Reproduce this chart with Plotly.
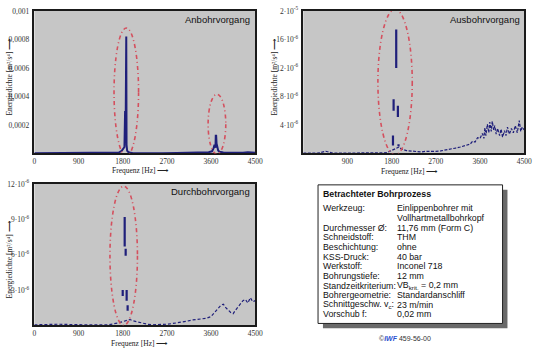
import plotly.graph_objects as go

W, H = 540, 349

# ---------------- data ----------------
freq_ticks = [0, 900, 1800, 2700, 3600, 4500]
freq_ticktext = ["0", "900", "1800", "2700", "3600", "4500"]

# Anbohrvorgang spectrum (Hz, m²/s⁴)
an_freq = [0, 200, 470, 490, 700, 1000, 1300, 1600, 1720, 1780, 1810, 1835, 1848, 1852,
           1858, 1862, 1866, 1872, 1878, 1884, 1890, 1905, 1925, 1950, 2000, 2100, 2300,
           2600, 2900, 3150, 3300, 3450, 3550, 3620, 3650, 3670, 3690, 3696, 3704, 3712,
           3725, 3745, 3770, 3800, 3850, 3950, 4050, 4150, 4250, 4350, 4450, 4500]
an_val = [0.000001, 0.000001, 0.000004, 0.000001, 0.000001, 0.000001, 0.000001, 0.000002,
          0.000006, 0.000018, 0.000030, 0.000045, 0.00029, 0.00029, 0.00009, 0.00082,
          0.00082, 0.00082, 0.00006, 0.000035, 0.000020, 0.000012, 0.000008, 0.000004,
          0.000003, 0.000002, 0.000002, 0.000002, 0.000003, 0.000004, 0.000006, 0.000005,
          0.000009, 0.000015, 0.000035, 0.000060, 0.000040, 0.000124, 0.000124, 0.000070,
          0.000050, 0.000020, 0.000012, 0.000008, 0.000006, 0.000005, 0.000004, 0.000007,
          0.000005, 0.000008, 0.000006, 0.000005]

# Ausbohrvorgang spectrum (Hz, m²/s⁴)
aus_freq = [0, 300, 460, 600, 900, 1200, 1500, 1700, 1950, 2000, 2100, 2200, 2300, 2400,
            2500, 2600, 2700, 2800, 2900, 3000, 3100, 3200, 3300, 3400, 3450, 3500, 3550,
            3600, 3650, 3680, 3700, 3720, 3750, 3780, 3800, 3830, 3850, 3880, 3900, 3930,
            3960, 4000, 4030, 4060, 4100, 4130, 4160, 4200, 4240, 4280, 4320, 4360, 4400,
            4430, 4460, 4500]
aus_val = [0.05e-6, 0.05e-6, 0.3e-6, 0.05e-6, 0.05e-6, 0.05e-6, 0.05e-6, 0.1e-6, 0.9e-6,
           0.6e-6, 0.4e-6, 0.3e-6, 0.25e-6, 0.2e-6, 0.3e-6, 0.25e-6, 0.3e-6, 0.35e-6,
           0.45e-6, 0.6e-6, 0.75e-6, 0.9e-6, 1.1e-6, 1.3e-6, 1.7e-6, 1.6e-6, 2.2e-6,
           2.1e-6, 2.8e-6, 2.1e-6, 3.6e-6, 2.5e-6, 4.1e-6, 2.9e-6, 4.4e-6, 3.1e-6,
           4.5e-6, 3.3e-6, 3.9e-6, 2.7e-6, 3.5e-6, 2.5e-6, 3.4e-6, 2.3e-6, 3.2e-6,
           2.5e-6, 3.7e-6, 2.7e-6, 3.5e-6, 2.9e-6, 3.9e-6, 2.9e-6, 4.6e-6, 3.1e-6,
           3.7e-6, 3.3e-6]

# Ausbohrvorgang peak segments: frequency, lower and upper value (m²/s⁴)
aus_seg_freq = [1893, 1840, 1927, 1827, 1940]
aus_seg_lo = [12.0e-6, 6.0e-6, 5.1e-6, 1.1e-6, 1.0e-6]
aus_seg_hi = [17.4e-6, 7.6e-6, 6.7e-6, 2.5e-6, 1.3e-6]

# Durchbohrvorgang spectrum (Hz, m²/s⁴)
dur_freq = [0, 500, 1000, 1300, 1500, 1700, 1950, 2000, 2100, 2200, 2300, 2400, 2500,
            2600, 2700, 2800, 2900, 3000, 3100, 3200, 3300, 3400, 3500, 3600, 3700,
            3800, 3850, 3900, 4000, 4050, 4100, 4200, 4250, 4300, 4350, 4400, 4450, 4500]
dur_val = [0.05e-6, 0.1e-6, 0.05e-6, 0.05e-6, 0.05e-6, 0.2e-6, 0.5e-6, 0.4e-6, 0.3e-6,
           0.15e-6, 0.1e-6, 0.05e-6, 0.05e-6, 0.05e-6, 0.1e-6, 0.15e-6, 0.2e-6, 0.25e-6,
           0.35e-6, 0.45e-6, 0.5e-6, 0.5e-6, 0.6e-6, 0.75e-6, 1.2e-6, 1.7e-6, 1.8e-6,
           1.5e-6, 1.1e-6, 1.0e-6, 1.3e-6, 1.8e-6, 2.1e-6, 2.2e-6, 1.9e-6, 2.35e-6,
           2.0e-6, 2.1e-6]

# Durchbohrvorgang peak segments
dur_seg_freq = [1840, 1860, 1800, 1880, 1900]
dur_seg_lo = [6.7e-6, 5.9e-6, 2.5e-6, 2.1e-6, 1.25e-6]
dur_seg_hi = [9.2e-6, 6.5e-6, 3.0e-6, 3.0e-6, 1.7e-6]

# highlighted regions: centre frequency, half width, centre value, half height
an_marks = [(1873, 250, 0.00043, 0.00045), (3720, 180, 0.000205, 0.00021)]
aus_marks = [(1870, 350, 10.0e-6, 10.2e-6)]
dur_marks = [(1820, 280, 5.9e-6, 5.9e-6)]

# process parameters
box_title = "Betrachteter Bohrprozess"
box_labels = ["Werkzeug:", "", "Durchmesser Ø:", "Schneidstoff:", "Beschichtung:",
              "KSS-Druck:", "Werkstoff:", "Bohrungstiefe:", "Standzeitkriterium:",
              "Bohrergeometrie:", "Schnittgeschw. v<sub>c</sub>:", "Vorschub f:"]
box_values = ["Einlippenbohrer mit", "Vollhartmetallbohrkopf", "11,76 mm (Form C)", "THM",
              "ohne", "40 bar", "Inconel 718", "12 mm", "VB<sub>krit.</sub> = 0,2 mm",
              "Standardanschliff", "23 m/min", "0,02 mm"]

# ---------------- styling ----------------
LINE = "#1f1f7a"
RING = "#d4505e"
BG = "#c6c6c6"
SERIF = "Liberation Serif"
SANS = "Liberation Sans"


def px(x):
    return x / W


def py(y):
    return 1 - y / H


def segments(f, lo, hi):
    xs, ys = [], []
    for a, b, c in zip(f, lo, hi):
        xs += [a, a, None]
        ys += [b, c, None]
    return xs, ys


fig = go.Figure()

fig.add_trace(go.Scatter(x=an_freq, y=an_val, mode="lines", xaxis="x", yaxis="y",
                         line=dict(color=LINE, width=2), hoverinfo="skip"))

fig.add_trace(go.Scatter(x=aus_freq, y=aus_val, mode="lines", xaxis="x2", yaxis="y2",
                         line=dict(color=LINE, width=1.2, dash="3px,1.5px"), hoverinfo="skip"))
sx, sy = segments(aus_seg_freq, aus_seg_lo, aus_seg_hi)
fig.add_trace(go.Scatter(x=sx, y=sy, mode="lines", xaxis="x2", yaxis="y2",
                         line=dict(color=LINE, width=2.2), hoverinfo="skip"))

fig.add_trace(go.Scatter(x=dur_freq, y=dur_val, mode="lines", xaxis="x3", yaxis="y3",
                         line=dict(color=LINE, width=1.2, dash="3px,2px"), hoverinfo="skip"))
sx, sy = segments(dur_seg_freq, dur_seg_lo, dur_seg_hi)
fig.add_trace(go.Scatter(x=sx, y=sy, mode="lines", xaxis="x3", yaxis="y3",
                         line=dict(color=LINE, width=2.2), hoverinfo="skip"))

tickfont = dict(family=SERIF, size=7.5, color="#333333")


def xax(domain, anchor, show_zero=True):
    vals = freq_ticks if show_zero else freq_ticks[1:]
    text = freq_ticktext if show_zero else freq_ticktext[1:]
    return dict(domain=domain, anchor=anchor, range=[0, 4500], tickvals=vals, ticktext=text,
                tickfont=tickfont, showgrid=False, zeroline=False, showline=True,
                linecolor="#1a1a1a", linewidth=1.5, mirror=True, ticks="", fixedrange=True)


def yax(domain, anchor, rng, vals, text):
    return dict(domain=domain, anchor=anchor, range=rng, tickvals=vals, ticktext=text,
                tickfont=tickfont, showgrid=False, zeroline=False, showline=True,
                linecolor="#1a1a1a", linewidth=1.5, mirror=True, ticks="", fixedrange=True,
                ticklabelstandoff=2)


top_dom = [py(150), py(5)]
bot_dom = [py(325), py(181)]
left_dom = [px(33), px(258)]
right_dom = [px(307), px(532)]

an_ticks = [0.0002, 0.0004, 0.0006, 0.0008, 0.001]
an_ticktext = ["0,0002", "0,0004", "0,0006", "0,0008", "0,001"]
aus_ticks = [4e-6, 8e-6, 12e-6, 16e-6, 20e-6]
aus_ticktext = ["4·10<sup>-6</sup>", "8·10<sup>-6</sup>", "12·10<sup>-6</sup>",
                "16·10<sup>-6</sup>", "2·10<sup>-5</sup>"]
dur_ticks = [3e-6, 6e-6, 9e-6, 12e-6]
dur_ticktext = ["3·10<sup>-6</sup>", "6·10<sup>-6</sup>", "9·10<sup>-6</sup>",
                "12·10<sup>-6</sup>"]

fig.update_layout(
    width=W, height=H, margin=dict(l=0, r=0, t=0, b=0),
    paper_bgcolor="white", plot_bgcolor=BG, showlegend=False,
    xaxis=xax(left_dom, "y"),
    yaxis=yax(top_dom, "x", [0, 0.001], an_ticks, an_ticktext),
    xaxis2=xax(right_dom, "y2", show_zero=False),
    yaxis2=yax(top_dom, "x2", [0, 20e-6], aus_ticks, aus_ticktext),
    xaxis3=xax(left_dom, "y3"),
    yaxis3=yax(bot_dom, "x3", [0, 12e-6], dur_ticks, dur_ticktext),
)

shapes = []
for marks, xr, yr in [(an_marks, "x", "y"), (aus_marks, "x2", "y2"), (dur_marks, "x3", "y3")]:
    for cf, hw, cv, hh in marks:
        shapes.append(dict(type="circle", xref=xr, yref=yr, x0=cf - hw, x1=cf + hw,
                           y0=cv - hh, y1=cv + hh,
                           line=dict(color=RING, width=1.6, dash="4px,3px,1px,3px")))

# parameter box with drop shadow
shapes.append(dict(type="rect", xref="paper", yref="paper", x0=px(327), x1=px(515),
                   y0=py(328), y1=py(187), fillcolor="#6a6a6a", line=dict(width=0),
                   layer="below"))
shapes.append(dict(type="rect", xref="paper", yref="paper", x0=px(322), x1=px(510),
                   y0=py(323), y1=py(182), fillcolor="white",
                   line=dict(color="#222222", width=1)))
fig.update_layout(shapes=shapes)

ann = []
titlefont = dict(family=SANS, size=9.5, color="#111111")
for text, xr, yt in [("Anbohrvorgang", 255, 14), ("Ausbohrvorgang", 530, 14),
                     ("Durchbohrvorgang", 255, 189)]:
    ann.append(dict(text=text, xref="paper", yref="paper", x=px(xr), y=py(yt),
                    xanchor="right", yanchor="middle", showarrow=False, font=titlefont))

axfont = dict(family=SERIF, size=7.5, color="#222222")
for xc, yc in [(141, 167), (415, 168), (140, 343)]:
    ann.append(dict(text="Frequenz [Hz] ⟶", xref="paper", yref="paper", x=px(xc), y=py(yc),
                    xanchor="center", yanchor="middle", showarrow=False, font=axfont))
for xc, yc in [(8, 72), (278, 72), (8, 258)]:
    ann.append(dict(text="Energiedichte [m²/s⁴] ⟶", textangle=-90, xref="paper",
                    yref="paper", x=px(xc), y=py(yc), xanchor="center", yanchor="middle",
                    showarrow=False, font=axfont))

boxfont = dict(family=SANS, size=8.8, color="#111111")
ann.append(dict(text="<b>" + box_title + "</b>", xref="paper", yref="paper", x=px(325),
                y=py(191), xanchor="left", yanchor="middle", showarrow=False, font=boxfont))
for i, (lab, val) in enumerate(zip(box_labels, box_values)):
    yrow = 206 + 9.8 * i
    if lab:
        ann.append(dict(text=lab, xref="paper", yref="paper", x=px(325), y=py(yrow),
                        xanchor="left", yanchor="middle", showarrow=False, font=boxfont))
    ann.append(dict(text=val, xref="paper", yref="paper", x=px(400), y=py(yrow),
                    xanchor="left", yanchor="middle", showarrow=False, font=boxfont))

ann.append(dict(text="©<span style='color:#2a4fd0'><b><i>IWF</i></b></span> 459-56-00",
                xref="paper", yref="paper", x=px(411), y=py(338), xanchor="center",
                yanchor="middle", showarrow=False,
                font=dict(family=SANS, size=7, color="#333333")))

fig.update_layout(annotations=ann)

fig.write_html("out.html")
